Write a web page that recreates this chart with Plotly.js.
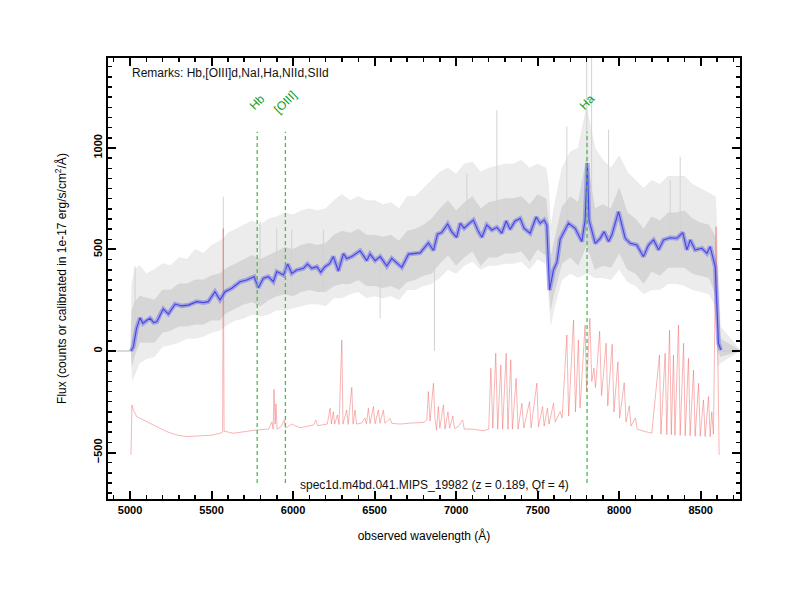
<!DOCTYPE html>
<html><head><meta charset="utf-8">
<script src="https://cdn.plot.ly/plotly-3.0.1.min.js"></script>
<style>html,body{margin:0;padding:0;background:#fff}</style>
</head><body><div id="chart" style="width:800px;height:600px"></div>
<script>
// ---- data ----
// smoothed (blue) spectrum
const blueWave = [5006,5020,5040,5061,5080,5100,5123,5145,5164,5185,5204,5235,5276,5317,5358,5409,5450,5480,5521,5552,5583,5624,5675,5716,5761,5787,5818,5848,5879,5900,5941,5967,5992,6023,6064,6088,6115,6146,6170,6196,6224,6247,6278,6309,6329,6360,6411,6452,6472,6503,6534,6575,6605,6667,6708,6779,6830,6861,6886,6911,6948,6972,7003,7025,7049,7076,7106,7137,7158,7188,7219,7250,7280,7307,7331,7362,7393,7417,7454,7491,7515,7540,7556,7573,7597,7618,7638,7689,7730,7771,7791,7805,7815,7853,7884,7908,7935,7955,7996,8037,8068,8108,8149,8180,8211,8242,8272,8313,8354,8390,8415,8436,8466,8507,8538,8558,8589,8609,8624];
const blueFlux = [0,20,110,163,136,150,161,140,144,180,207,182,231,222,226,243,238,243,292,251,292,309,341,350,366,312,358,366,341,391,374,428,382,399,407,428,407,415,388,415,430,465,394,480,455,465,494,445,478,445,465,418,456,412,477,483,532,495,575,583,625,588,560,629,605,625,645,588,560,621,596,609,580,640,599,640,653,604,580,660,629,645,620,300,399,436,550,629,604,539,645,925,645,530,555,588,539,571,686,555,530,522,465,522,547,498,547,558,555,583,498,547,498,506,481,514,415,38,5];

// raw (gray) spectrum envelope
const grayWave   = [4918,5005,5012,5030,5060,5100,5150,5200,5250,5300,5350,5400,5450,5500,5550,5580,5600,5650,5700,5750,5800,5850,5900,5950,6000,6050,6100,6150,6200,6250,6300,6350,6400,6450,6500,6550,6600,6650,6700,6750,6800,6850,6900,6950,7000,7050,7100,7150,7200,7250,7300,7350,7400,7450,7500,7550,7565,7580,7600,7650,7700,7750,7800,7850,7900,7950,8000,8050,8100,8150,8200,8250,8300,8350,8400,8450,8500,8550,8590,8605,8620,8745];
const grayCoreHi = [0,0,200,240,270,260,250,300,300,330,330,350,350,370,380,400,410,430,450,470,450,470,490,510,500,520,530,520,530,570,590,580,600,570,570,560,570,540,590,600,620,650,700,740,690,730,760,700,730,740,750,750,760,720,770,750,640,450,530,710,760,730,950,700,720,700,800,680,650,600,660,640,680,680,690,650,630,620,560,300,60,0];
const grayCoreLo = [0,0,-80,-20,40,40,40,90,100,120,120,130,130,150,150,180,190,210,230,240,220,250,270,280,270,290,300,290,290,320,330,330,350,320,320,310,320,300,340,350,370,380,430,470,420,460,490,420,460,460,480,480,490,440,500,470,330,200,280,430,460,420,520,400,420,410,480,400,380,330,390,370,410,410,410,380,370,360,280,0,-30,0];
const grayOutHi  = [0,0,330,400,420,380,400,430,420,460,450,500,480,520,540,560,580,600,620,640,620,650,660,680,670,690,700,690,700,740,770,740,760,740,740,720,730,700,760,760,800,840,880,900,870,920,930,880,900,910,920,920,940,900,920,900,820,600,700,900,980,1000,1200,1000,940,900,960,880,840,800,840,820,860,860,860,820,800,780,760,450,120,0];
const grayOutLo  = [0,0,-150,-120,-60,-40,-30,20,30,40,60,60,70,90,100,120,130,150,160,180,170,180,200,200,210,220,230,230,220,260,260,280,290,260,270,260,270,250,300,300,320,330,360,400,380,420,440,400,420,420,430,430,440,400,450,430,250,120,200,350,380,360,380,360,360,350,400,340,320,280,300,300,330,330,320,300,290,280,220,-80,-60,0];
// isolated tall gray spikes
const spikeWave = [5031,5572,5798,5900,5992,6186,6534,6867,7066,7250,7679,7801,7831,7935,8313,8374];
const spikeTop  = [415,760,637,604,596,596,450,450,875,1187,1105,1460,1460,1089,842,957];
const spikeBot  = [100,200,300,300,300,300,161,0,600,600,600,700,600,550,550,550];

// sky / error (red) spectrum, offset
const redWave = [5006,5012,5020,5041,5102,5164,5225,5286,5348,5429,5511,5562,5568,5572,5577,5634,5700,5777,5850,5870,5878,5883,5890,5895,5902,5930,5945,5955,5990,6043,6125,6140,6150,6210,6227,6235,6247,6255,6272,6282,6299,6306,6329,6338,6360,6368,6380,6390,6420,6440,6450,6462,6472,6493,6503,6523,6533,6554,6563,6595,6605,6656,6720,6800,6820,6830,6840,6861,6870,6880,6891,6900,6922,6932,6950,6960,6980,6990,7012,7040,7050,7100,7166,7200,7213,7225,7243,7255,7274,7285,7307,7318,7335,7345,7368,7380,7403,7415,7450,7460,7495,7505,7530,7540,7560,7570,7597,7608,7638,7650,7679,7690,7720,7732,7750,7760,7791,7800,7820,7832,7845,7855,7880,7892,7920,7930,7957,7968,7992,8003,8031,8042,8062,8072,8100,8110,8150,8200,8247,8256,8282,8292,8309,8320,8333,8342,8364,8374,8395,8405,8425,8435,8456,8466,8487,8497,8517,8527,8548,8558,8568,8578,8594,8613];
const redFlux = [-512,-266,-290,-323,-348,-373,-397,-414,-422,-418,-414,-402,-400,604,-395,-405,-398,-389,-385,-350,-385,-189,-360,-260,-385,-370,-340,-380,-360,-378,-365,-340,-368,-360,-282,-360,-299,-360,-315,-362,54,-360,-291,-362,-179,-360,-291,-360,-355,-330,-358,-282,-358,-274,-358,-291,-356,-291,-356,-332,-356,-360,-355,-352,-340,-200,-345,-159,-330,-390,-274,-380,-266,-385,-300,-380,-320,-382,-373,-340,-385,-385,-393,-385,-85,-380,-11,-385,-69,-385,-11,-385,-44,-385,-135,-385,-258,-380,-250,-378,-159,-375,-274,-370,-282,-360,-258,-350,-299,-330,79,-320,153,-300,54,-280,128,-200,161,-150,-85,-180,97,-220,38,-270,33,-300,-53,-330,-156,-350,-270,-370,-330,-385,-395,-405,-20,-410,-11,-412,103,-412,-20,-415,128,-415,38,-418,-36,-418,-94,-420,-159,-420,-241,-422,-225,-422,-299,-410,612,-512];

// identified lines
const lineWave  = [5780, 5953, 7803];
const lineNames = ['Hb', '[OIII]', 'Ha'];
const remarks   = 'Remarks: Hb,[OIII]d,NaI,Ha,NIId,SIId';
const specLabel = 'spec1d.m4bd.041.MIPS_19982 (z = 0.189, Qf = 4)';

// ---- traces ----
const spikeX = [], spikeY = [];
spikeWave.forEach((w, i) => { spikeX.push(w, w, null); spikeY.push(spikeBot[i], spikeTop[i], null); });

const traces = [
  {x: grayWave, y: grayOutLo, mode: 'lines', line: {color: 'rgba(0,0,0,0)', width: 0}, hoverinfo: 'skip'},
  {x: grayWave, y: grayOutHi, mode: 'lines', fill: 'tonexty', fillcolor: 'rgb(236,236,236)', line: {color: 'rgb(228,228,228)', width: 0.6}, hoverinfo: 'skip'},
  {x: grayWave, y: grayCoreLo, mode: 'lines', line: {color: 'rgba(0,0,0,0)', width: 0}, hoverinfo: 'skip'},
  {x: grayWave, y: grayCoreHi, mode: 'lines', fill: 'tonexty', fillcolor: 'rgb(214,214,214)', line: {color: 'rgb(208,208,208)', width: 0.6}, hoverinfo: 'skip'},
  {x: spikeX, y: spikeY, mode: 'lines', line: {color: 'rgb(210,210,210)', width: 1}, connectgaps: false, hoverinfo: 'skip'},
  {x: [4918, 5006], y: [0, 0], mode: 'lines', line: {color: 'rgb(200,200,200)', width: 1}, hoverinfo: 'skip'},
  {x: [8620, 8745], y: [0, 0], mode: 'lines', line: {color: 'rgb(200,200,200)', width: 1}, hoverinfo: 'skip'},
  {x: redWave, y: redFlux, mode: 'lines', line: {color: 'rgba(240,100,100,0.6)', width: 0.8}},
  {x: blueWave, y: blueFlux, mode: 'lines', line: {color: 'rgba(110,110,235,0.5)', width: 4.5}, hoverinfo: 'skip'},
  {x: blueWave, y: blueFlux, mode: 'lines', line: {color: 'rgb(70,70,225)', width: 1.1}}
];

const shapes = lineWave.map(w => ({
  type: 'line', xref: 'x', yref: 'y', x0: w, x1: w, y0: -650, y1: 1080,
  line: {color: 'rgb(80,185,80)', width: 1.3, dash: '4px,3px'}
}));

const annotations = lineWave.map((w, i) => ({
  x: w, y: 1228, xref: 'x', yref: 'y', text: lineNames[i], showarrow: false,
  textangle: -45, font: {color: 'rgb(20,155,20)', size: 12}
}));
annotations.push({x: 0.035, y: 0.966, xref: 'paper', yref: 'paper', xanchor: 'left', yanchor: 'middle',
  text: remarks, showarrow: false, font: {size: 12, color: '#111'}});
annotations.push({x: 0.30, y: 0.032, xref: 'paper', yref: 'paper', xanchor: 'left', yanchor: 'middle',
  text: specLabel, showarrow: false, font: {size: 12, color: '#111'}});

const axisCommon = {
  showgrid: false, zeroline: false, showline: true, linecolor: '#000', linewidth: 2,
  mirror: 'allticks', ticks: 'inside', ticklen: 8, tickwidth: 2, tickcolor: '#000',
  tickfont: {size: 11, color: '#000', weight: 'bold'}
};

const layout = {
  width: 800, height: 600,
  margin: {l: 108, r: 60, t: 58, b: 101},
  paper_bgcolor: '#fff', plot_bgcolor: '#fff',
  showlegend: false,
  font: {family: 'Liberation Sans, Arial, sans-serif', color: '#000'},
  xaxis: Object.assign({}, axisCommon, {
    range: [4865, 8741], tick0: 5000, dtick: 500,
    minor: {dtick: 100, ticks: 'inside', ticklen: 4, tickwidth: 1.5, tickcolor: '#000'},
    title: {text: 'observed wavelength (Å)', font: {size: 12}, standoff: 16}
  }),
  yaxis: Object.assign({}, axisCommon, {
    range: [-729, 1443], tick0: 0, dtick: 500, tickangle: -90,
    minor: {dtick: 50, ticks: 'inside', ticklen: 4, tickwidth: 1.5, tickcolor: '#000'},
    title: {text: 'Flux (counts or calibrated in 1e-17 erg/s/cm<sup>2</sup>/Å)', font: {size: 12}, standoff: 22}
  }),
  shapes: shapes,
  annotations: annotations
};

Plotly.newPlot('chart', traces, layout, {displayModeBar: false, staticPlot: true});
</script></body></html>
